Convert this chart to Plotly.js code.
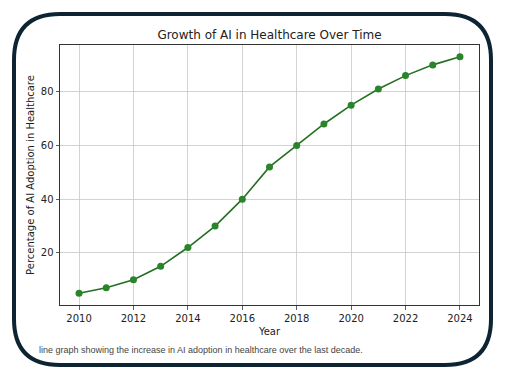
<!DOCTYPE html>
<html>
<head>
<meta charset="utf-8">
<script src="https://cdn.plot.ly/plotly-3.0.1.min.js"></script>
<style>
html,body{margin:0;padding:0;background:#fff;}
#chart{width:506px;height:382px;}
</style>
</head>
<body>
<div id="chart"></div>
<script>
const years = [2010, 2011, 2012, 2013, 2014, 2015, 2016, 2017, 2018, 2019, 2020, 2021, 2022, 2023, 2024];
const adoption = [5, 7, 10, 15, 22, 30, 40, 52, 60, 68, 75, 81, 86, 90, 93];
const xTicks = [2010, 2012, 2014, 2016, 2018, 2020, 2022, 2024];
const yTicks = [20, 40, 60, 80];

const W = 506, H = 382;
const L = 60, R = 27, T = 45, B = 77;
const pw = W - L - R, ph = H - T - B;
function px(x){ return (x - L) / pw; }
function py(y){ return (H - B - y) / ph; }

// rounded frame path in paper coordinates
const fx0 = 14, fx1 = 491, fy0 = 14, fy1 = 365, rad = 46;
const path = [
  'M', px(fx0 + rad), py(fy0),
  'L', px(fx1 - rad), py(fy0),
  'Q', px(fx1), py(fy0), px(fx1), py(fy0 + rad),
  'L', px(fx1), py(fy1 - rad),
  'Q', px(fx1), py(fy1), px(fx1 - rad), py(fy1),
  'L', px(fx0 + rad), py(fy1),
  'Q', px(fx0), py(fy1), px(fx0), py(fy1 - rad),
  'L', px(fx0), py(fy0 + rad),
  'Q', px(fx0), py(fy0), px(fx0 + rad), py(fy0),
  'Z'
].join(' ');

const font = 'DejaVu Sans, sans-serif';

const trace = {
  x: years,
  y: adoption,
  type: 'scatter',
  mode: 'lines+markers',
  line: {color: '#236f23', width: 1.6},
  marker: {color: '#2a842a', size: 7},
  hoverinfo: 'none'
};

const layout = {
  width: W, height: H,
  margin: {l: L, r: R, t: T, b: B},
  paper_bgcolor: '#ffffff',
  plot_bgcolor: '#ffffff',
  showlegend: false,
  font: {family: font, color: '#222', size: 10},
  title: {
    text: 'Growth of AI in Healthcare Over Time',
    font: {family: font, size: 12, color: '#222'},
    x: px(269.5), xref: 'paper', xanchor: 'center',
    y: 1 - 35 / H, yref: 'container', yanchor: 'middle'
  },
  xaxis: {
    range: [2009.3, 2024.7],
    tickvals: xTicks,
    ticktext: xTicks.map(String),
    showgrid: true, gridcolor: '#c8c8c8', gridwidth: 0.8,
    zeroline: false,
    showline: true, linecolor: '#333', linewidth: 1, mirror: true,
    ticks: 'outside', ticklen: 3.5, tickcolor: '#333', tickwidth: 0.8,
    tickfont: {family: font, size: 10, color: '#222'},
    title: {text: 'Year', font: {family: font, size: 10, color: '#222'}, standoff: 5}
  },
  yaxis: {
    range: [0.6, 97.4],
    tickvals: yTicks,
    ticktext: yTicks.map(String),
    showgrid: true, gridcolor: '#c8c8c8', gridwidth: 0.8,
    zeroline: false,
    showline: true, linecolor: '#333', linewidth: 1, mirror: true,
    ticks: 'outside', ticklen: 3.5, tickcolor: '#333', tickwidth: 0.8,
    tickfont: {family: font, size: 10, color: '#222'},
    title: {text: 'Percentage of AI Adoption in Healthcare', font: {family: font, size: 10, color: '#222'}, standoff: 4}
  },
  shapes: [{
    type: 'path', xref: 'paper', yref: 'paper', path: path,
    line: {color: '#0e2433', width: 4}, fillcolor: 'rgba(0,0,0,0)', layer: 'above'
  }],
  annotations: [{
    text: 'line graph showing the increase in AI adoption in healthcare over the last decade.',
    xref: 'paper', yref: 'paper', x: px(37), y: py(350),
    xanchor: 'left', yanchor: 'middle', showarrow: false,
    font: {family: 'Liberation Sans, Arial, sans-serif', size: 9, color: '#444'}
  }]
};

Plotly.newPlot('chart', [trace], layout, {displayModeBar: false, staticPlot: true});
</script>
</body>
</html>
